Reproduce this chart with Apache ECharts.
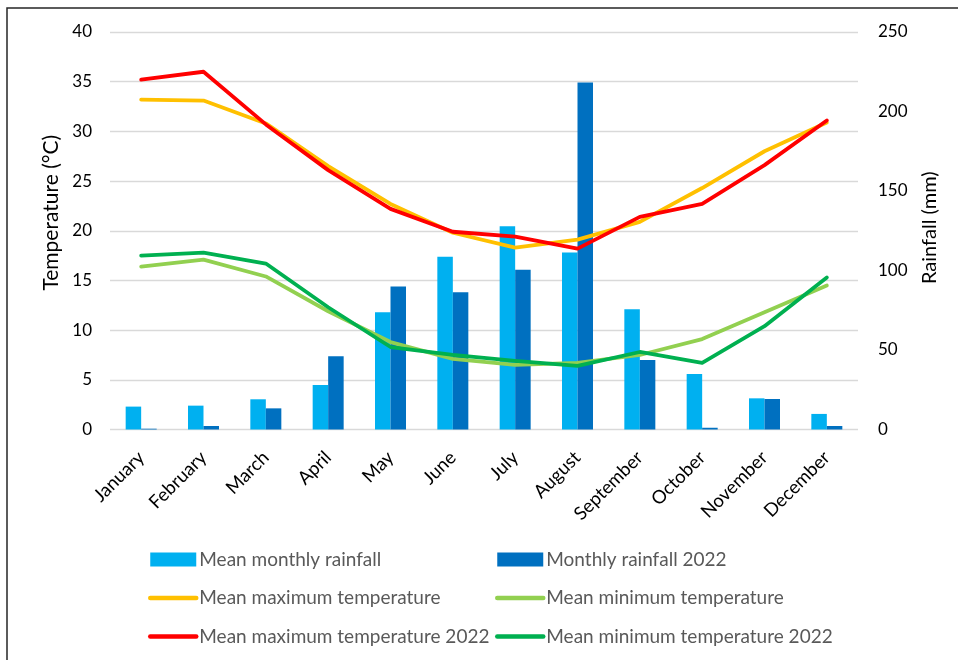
<!DOCTYPE html>
<html>
<head>
<meta charset="utf-8">
<script src="https://cdn.jsdelivr.net/npm/echarts@6/dist/echarts.min.js"></script>
<style>
  html, body { margin: 0; padding: 0; background: #fff; }
  #chart { width: 958px; height: 660px; }
</style>
</head>
<body>
<div id="chart"></div>
<script>
// Monthly climate: rainfall (mm, right axis) and temperature (°C, left axis)
const months = ['January', 'February', 'March', 'April', 'May', 'June',
  'July', 'August', 'September', 'October', 'November', 'December'];

const meanRainfall = [14.4, 15.0, 19.0, 28.0, 73.8, 108.6, 127.9, 111.3, 75.6, 34.9, 19.6, 9.8];
const rainfall2022 = [0.5, 2.2, 13.3, 46.1, 89.9, 86.3, 100.4, 218.3, 43.7, 1.1, 19.2, 2.2];

const meanMaxTemp = [33.2, 33.1, 30.8, 26.5, 22.7, 19.8, 18.3, 19.1, 20.9, 24.3, 28.0, 30.9];
const meanMinTemp = [16.4, 17.1, 15.4, 11.9, 8.8, 7.1, 6.5, 6.7, 7.5, 9.1, 11.8, 14.5];
const maxTemp2022 = [35.2, 36.0, 30.7, 26.1, 22.2, 19.9, 19.4, 18.2, 21.4, 22.7, 26.6, 31.1];
const minTemp2022 = [17.5, 17.8, 16.7, 12.3, 8.3, 7.5, 6.9, 6.4, 7.8, 6.7, 10.4, 15.3];

const tempTicks = { min: 0, max: 40, interval: 5 };
const rainTicks = { min: 0, max: 250, interval: 50 };

const FONT = 'Lato, "Open Sans", sans-serif';
const chart = echarts.init(document.getElementById('chart'), null, { renderer: 'canvas' });

const lineSeries = (name, data, color) => ({
  name, type: 'line', data, yAxisIndex: 0,
  symbol: 'none', smooth: false,
  lineStyle: { color, width: 3.8, cap: 'round', join: 'round' },
  itemStyle: { color },
  z: 3
});

// legend entry for a line: keep a thick stroke, hide the marker dot
const lineEntry = name => ({
  name,
  itemStyle: { opacity: 0 },
  lineStyle: { width: 4.5, cap: 'round' }
});

const legendBase = {
  orient: 'vertical', top: 545, itemGap: 19.5, padding: 5,
  itemWidth: 46, itemHeight: 14,
  textStyle: { color: '#595959', fontSize: 19, fontFamily: FONT, padding: [0, 0, 0, -2] }
};

chart.setOption({
  animation: false,
  backgroundColor: '#fff',
  textStyle: { fontFamily: FONT },
  graphic: [{
    type: 'polyline',
    shape: { points: [[7, 660], [7, 8], [958, 8]] },
    style: { stroke: '#262626', lineWidth: 1.5, fill: null },
    silent: true
  }],
  grid: { left: 110, right: 100, top: 32, bottom: 230.5, containLabel: false },
  legend: [
    Object.assign({}, legendBase, {
      left: 143,
      data: [
        { name: 'Mean monthly rainfall', icon: 'rect' },
        lineEntry('Mean maximum temperature'),
        lineEntry('Mean maximum temperature 2022')
      ]
    }),
    Object.assign({}, legendBase, {
      left: 490,
      data: [
        { name: 'Monthly rainfall 2022', icon: 'rect' },
        lineEntry('Mean minimum temperature'),
        lineEntry('Mean minimum temperature 2022')
      ]
    })
  ],
  xAxis: {
    type: 'category', data: months,
    axisLine: { show: false }, axisTick: { show: false },
    axisLabel: { rotate: 45, fontSize: 18.5, color: '#000', margin: 25, fontFamily: FONT }
  },
  yAxis: [
    {
      type: 'value', ...tempTicks, position: 'left',
      name: 'Temperature (°C)', nameLocation: 'middle', nameGap: 48, nameRotate: 90,
      nameTextStyle: { fontSize: 21, color: '#000', fontFamily: FONT, padding: [0, 0, 0, 36] },
      axisLine: { show: false }, axisTick: { show: false },
      axisLabel: { fontSize: 17, color: '#000', margin: 18, fontFamily: FONT },
      splitLine: { lineStyle: { color: '#d9d9d9', width: 1.3 } }
    },
    {
      type: 'value', ...rainTicks, position: 'right',
      name: 'Rainfall (mm)', nameLocation: 'middle', nameGap: 62, nameRotate: 90,
      nameTextStyle: { fontSize: 20, color: '#000', fontFamily: FONT, padding: [0, 0, 0, 6] },
      axisLine: { show: false }, axisTick: { show: false },
      axisLabel: { fontSize: 17, color: '#000', margin: 20, fontFamily: FONT },
      splitLine: { show: false }
    }
  ],
  series: [
    {
      name: 'Mean monthly rainfall', type: 'bar', data: meanRainfall, yAxisIndex: 1,
      barWidth: 15.5, barGap: '0%', itemStyle: { color: '#00b0f0' }, z: 2
    },
    {
      name: 'Monthly rainfall 2022', type: 'bar', data: rainfall2022, yAxisIndex: 1,
      barWidth: 15.5, barGap: '0%', itemStyle: { color: '#0070c0' }, z: 2
    },
    lineSeries('Mean maximum temperature', meanMaxTemp, '#ffc000'),
    lineSeries('Mean minimum temperature', meanMinTemp, '#92d050'),
    lineSeries('Mean maximum temperature 2022', maxTemp2022, '#ff0000'),
    lineSeries('Mean minimum temperature 2022', minTemp2022, '#00b050')
  ]
});
</script>
</body>
</html>
